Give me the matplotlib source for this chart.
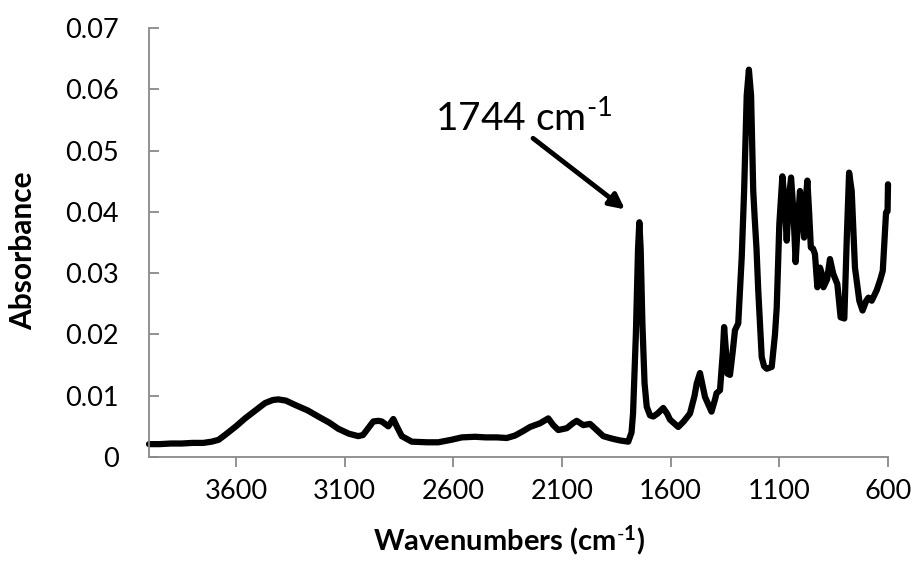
import matplotlib
matplotlib.use("Agg")
import matplotlib.pyplot as plt

plt.rcParams['font.family'] = ['Lato', 'DejaVu Sans']
plt.rcParams['mathtext.fontset'] = 'custom'
plt.rcParams['mathtext.rm'] = 'Lato'
plt.rcParams['mathtext.it'] = 'Lato:italic'
plt.rcParams['mathtext.bf'] = 'Lato:bold'

wavenumber = [4000, 3950, 3900, 3850, 3800, 3750, 3712, 3680, 3650, 3600, 3558, 3510, 3466, 3430, 3405,
              3370, 3328, 3270, 3221, 3170, 3129, 3080, 3037, 3015, 2998, 2968, 2945, 2929, 2899, 2876,
              2860, 2837, 2791, 2720, 2669, 2610, 2561, 2500, 2450, 2400, 2354, 2316, 2280, 2247, 2201,
              2163, 2140, 2117, 2078, 2050, 2032, 2002, 1971, 1940, 1910, 1870, 1833, 1795, 1780, 1773,
              1760, 1750, 1744, 1738, 1730, 1720, 1710, 1695, 1680, 1660, 1634, 1615, 1603, 1565, 1540,
              1511, 1490, 1480, 1465, 1455, 1442, 1412, 1395, 1389, 1373, 1360, 1354, 1345, 1339, 1327,
              1315, 1304, 1289, 1273, 1262, 1250, 1240, 1230, 1220, 1213, 1205, 1197, 1181, 1170, 1158,
              1135, 1120, 1112, 1100, 1086, 1076, 1066, 1056, 1046, 1035, 1025, 1015, 1005, 995, 986,
              978, 971, 963, 955, 945, 936, 925, 913, 905, 897, 880, 867, 852, 833, 818,
              801, 790, 779, 767, 752, 732, 717, 700, 690, 675, 652, 635, 624, 609, 602, 600]
absorbance = [0.0021, 0.0021, 0.0022, 0.0022, 0.0023, 0.0023, 0.0025, 0.0028, 0.0036, 0.0050, 0.0063, 0.0076, 0.0088, 0.0093, 0.0094,
              0.0092, 0.0085, 0.0076, 0.0066, 0.0056, 0.0046, 0.0038, 0.0034, 0.0036, 0.0044, 0.0058, 0.0059, 0.0058, 0.0050, 0.0062,
              0.0050, 0.0034, 0.0025, 0.0024, 0.0024, 0.0028, 0.0032, 0.0033, 0.0032, 0.0032, 0.0031, 0.0035, 0.0042, 0.0049, 0.0055,
              0.0063, 0.0052, 0.0044, 0.0047, 0.0055, 0.0059, 0.0052, 0.0054, 0.0044, 0.0034, 0.0030, 0.0027, 0.0025, 0.0040, 0.0071,
              0.0200, 0.0340, 0.0383, 0.0340, 0.0218, 0.0120, 0.0082, 0.0068, 0.0066, 0.0071, 0.0080, 0.0070, 0.0061, 0.0049, 0.0058,
              0.0071, 0.0100, 0.0120, 0.0137, 0.0120, 0.0098, 0.0074, 0.0095, 0.0104, 0.0109, 0.0170, 0.0212, 0.0170, 0.0136, 0.0134,
              0.0170, 0.0207, 0.0218, 0.0326, 0.0434, 0.0590, 0.0632, 0.0590, 0.0434, 0.0388, 0.0340, 0.0272, 0.0163, 0.0148, 0.0144,
              0.0147, 0.0200, 0.0244, 0.0380, 0.0458, 0.0420, 0.0353, 0.0420, 0.0456, 0.0400, 0.0318, 0.0380, 0.0434, 0.0400, 0.0358,
              0.0420, 0.0451, 0.0400, 0.0342, 0.0340, 0.0331, 0.0277, 0.0309, 0.0300, 0.0277, 0.0290, 0.0323, 0.0299, 0.0282, 0.0228,
              0.0226, 0.0353, 0.0464, 0.0434, 0.0309, 0.0255, 0.0239, 0.0255, 0.0260, 0.0255, 0.0272, 0.0290, 0.0304, 0.0399, 0.0401, 0.0445]

x_ticks = [3600, 3100, 2600, 2100, 1600, 1100, 600]
y_ticks = [0, 0.01, 0.02, 0.03, 0.04, 0.05, 0.06, 0.07]
y_tick_labels = ['0', '0.01', '0.02', '0.03', '0.04', '0.05', '0.06', '0.07']

W, H = 917, 562
fig = plt.figure(figsize=(W / 100, H / 100), dpi=100)
ax = fig.add_axes([149 / W, (H - 457) / H, (888 - 149) / W, (457 - 28) / H])

ax.plot(wavenumber, absorbance, color='black', linewidth=4.5, solid_joinstyle='round',
        solid_capstyle='round', clip_on=False)

ax.set_xlim(4000, 600)
ax.set_ylim(0, 0.07)
ax.set_xticks(x_ticks)
ax.set_xticklabels([str(t) for t in x_ticks])
ax.set_yticks(y_ticks)
ax.set_yticklabels(y_tick_labels)

gray = '#898989'
for s in ['top', 'right']:
    ax.spines[s].set_visible(False)
for s in ['left', 'bottom']:
    ax.spines[s].set_color(gray)
    ax.spines[s].set_linewidth(1.3)

ax.tick_params(axis='x', direction='out', length=7, width=1.3, color=gray, labelsize=19.5, pad=9)
ax.tick_params(axis='y', direction='in', length=7, width=1.3, color=gray, labelsize=19.5, pad=22)

ax.set_xlabel(r'Wavenumbers (cm$^{\mathbf{\text{-}1}}$)', fontsize=21, fontweight='bold')
ax.set_ylabel('Absorbance', fontsize=21.5, fontweight='bold')
ax.xaxis.set_label_coords(0.487, -0.155)
ax.yaxis.set_label_coords(-0.152, 0.48)

ax.annotate('', xy=(1810, 0.0404), xytext=(2233, 0.0520),
            arrowprops=dict(arrowstyle='-|>,head_length=0.9,head_width=0.45', color='black', lw=3.5,
                            shrinkA=0, shrinkB=0))
ax.text(2684, 0.0532, r'1744 cm$^{\text{-}1}$', fontsize=28, ha='left', va='baseline')

fig.savefig('out.png', dpi=100)
